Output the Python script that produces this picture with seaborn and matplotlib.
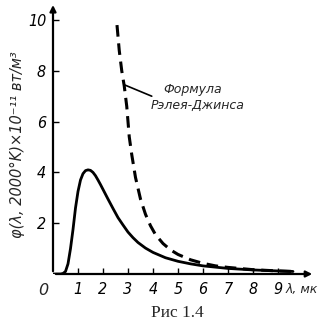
import matplotlib
matplotlib.use("Agg")
import matplotlib.pyplot as plt
import seaborn as sns
import pandas as pd

# Planck curve, T = 2000 K
planck_lambda = [0.0, 0.3, 0.4, 0.5, 0.6, 0.7, 0.8, 0.9, 1.0, 1.1, 1.2, 1.3, 1.4, 1.5,
                 1.6, 1.7, 1.8, 1.9, 2.0, 2.2, 2.4, 2.6, 2.8, 3.0, 3.2, 3.4, 3.7,
                 4.0, 4.5, 5.0, 5.5, 6.0, 7.0, 8.0, 9.0, 9.6]
planck_phi = [0.0, 0.0, 0.02, 0.1, 0.4, 1.0, 1.75, 2.6, 3.25, 3.7, 3.95, 4.07, 4.1, 4.08,
              4.0, 3.87, 3.7, 3.52, 3.33, 2.95, 2.58, 2.22, 1.93, 1.65, 1.43, 1.24, 1.02,
              0.85, 0.64, 0.5, 0.4, 0.32, 0.22, 0.16, 0.12, 0.1]

# Rayleigh-Jeans curve
rj_lambda = [2.56, 2.65, 2.75, 2.85, 2.95, 3.05, 3.15, 3.3, 3.5, 3.7, 3.9, 4.1, 4.4,
             4.7, 5.0, 5.5, 6.0, 6.5, 7.0, 8.0, 9.0, 9.6]
rj_phi = [9.8, 8.8, 8.0, 7.4, 6.6, 5.4, 4.7, 3.8, 2.95, 2.35, 1.9, 1.55, 1.2,
          0.95, 0.77, 0.56, 0.42, 0.32, 0.26, 0.17, 0.12, 0.1]

x_ticks = [1, 2, 3, 4, 5, 6, 7, 8, 9]
y_ticks = [2, 4, 6, 8, 10]

sns.set_theme(style="white")
plt.rcParams['font.family'] = ['DejaVu Sans']

fig = plt.figure(figsize=(3.27, 3.33), dpi=100)
ax = fig.add_axes([53/327, 59/333, 262/327, (25.4*10.7)/333])

df_p = pd.DataFrame({"lam": planck_lambda, "phi": planck_phi})
df_r = pd.DataFrame({"lam": rj_lambda, "phi": rj_phi})
sns.lineplot(data=df_p, x="lam", y="phi", ax=ax, color="black", lw=2.0, sort=False)
sns.lineplot(data=df_r, x="lam", y="phi", ax=ax, color="black", lw=2.2,
             linestyle=(0, (3.8, 2.2)), sort=False)

ax.set_xlim(0, 10.48)
ax.set_ylim(0, 10.7)
for s in ax.spines.values():
    s.set_visible(False)

# axes with arrows
ax.annotate("", xy=(1.0, 0), xytext=(0, 0), xycoords="axes fraction",
            arrowprops=dict(arrowstyle="-|>", color="black", lw=1.6, mutation_scale=9))
ax.annotate("", xy=(0, 1.0), xytext=(0, 0), xycoords="axes fraction",
            arrowprops=dict(arrowstyle="-|>", color="black", lw=1.6, mutation_scale=9))

ax.set_xticks(x_ticks)
ax.set_yticks(y_ticks)
ax.set_xticklabels([str(v) for v in x_ticks])
ax.set_yticklabels([str(v) for v in y_ticks])
ax.tick_params(axis="both", direction="in", length=4, width=1, color="black",
               labelsize=11.5, labelcolor="black", pad=5)
for lab in ax.get_xticklabels() + ax.get_yticklabels():
    lab.set_fontstyle("italic")
    lab.set_fontstretch("condensed")
ax.tick_params(axis="x", bottom=True, pad=6)
ax.tick_params(axis="y", left=True)

ax.text(-0.4, -0.35, "0", ha="center", va="top", fontsize=11.5, fontstyle="italic")
ax.text(9.95, -0.35, "λ, мк", ha="center", va="top", fontsize=9, fontstyle="italic")

ax.set_xlabel("")
ax.set_ylabel("φ(λ, 2000°K)×10⁻¹¹ вт/м³", fontsize=10.5, fontstyle="italic")
ax.yaxis.set_label_coords(-0.105, 0.475)

# annotation for Rayleigh-Jeans
ax.plot([2.85, 3.95], [7.45, 7.0], color="black", lw=1.2)
ax.text(4.4, 7.25, "Формула", fontsize=9, fontstyle="italic", ha="left", va="center")
ax.text(3.9, 6.65, "Рэлея-Джинса", fontsize=9, fontstyle="italic", ha="left", va="center")

fig.text(177/327, 1 - 313/333, "Рис 1.4", ha="center", va="center",
         fontsize=12.5, family="Liberation Serif")

fig.savefig("out.png", dpi=100, facecolor="white")
